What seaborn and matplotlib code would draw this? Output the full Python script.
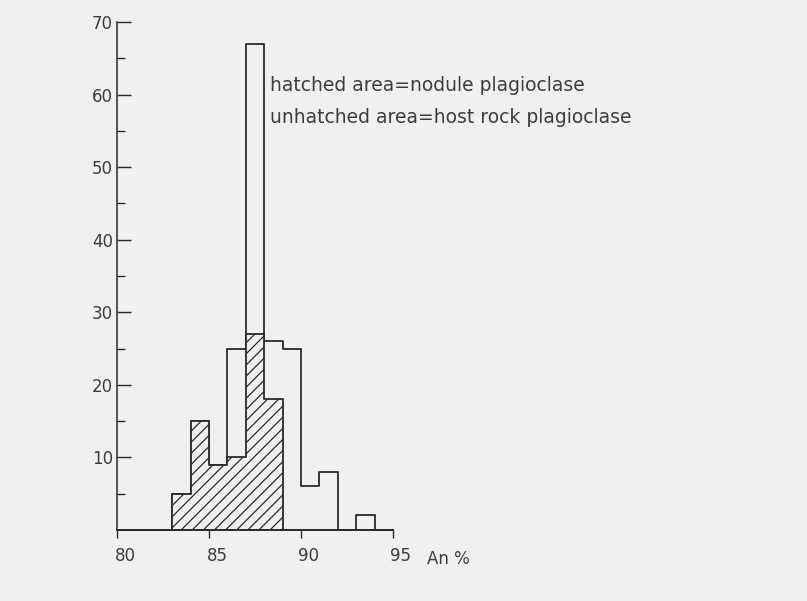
import numpy as np
import pandas as pd
import matplotlib
matplotlib.use("Agg")
import matplotlib.pyplot as plt
import matplotlib.transforms as mtransforms
import seaborn as sns

# Anorthite content bins (An %), one unit wide
bin_edges = [80, 81, 82, 83, 84, 85, 86, 87, 88, 89, 90, 91, 92, 93, 94, 95]
bin_centers = [80.5, 81.5, 82.5, 83.5, 84.5, 85.5, 86.5, 87.5, 88.5,
               89.5, 90.5, 91.5, 92.5, 93.5, 94.5]

# Counts per bin
nodule_counts = [0, 0, 0, 5, 15, 9, 10, 27, 18, 0, 0, 0, 0, 0, 0]
host_counts = [0, 0, 0, 0, 0, 0, 15, 40, 8, 25, 6, 8, 0, 2, 0]

y_ticks = [10, 20, 30, 40, 50, 60, 70]
y_minor = [5, 15, 25, 35, 45, 55, 65]
x_ticks = [80, 85, 90, 95]

legend_lines = ["hatched area=nodule plagioclase",
                "unhatched area=host rock plagioclase"]

bg = "#f0f0f0"
ink = "#2a2a2a"
text_col = "#3c3c3c"

sns.set_style("ticks")
plt.rcParams["font.family"] = ["DejaVu Sans"]
plt.rcParams["hatch.linewidth"] = 0.9
plt.rcParams["hatch.color"] = ink

total_counts = [n + h for n, h in zip(nodule_counts, host_counts)]
df = pd.DataFrame({
    "An": bin_centers * 2,
    "count": total_counts + nodule_counts,
    "layer": ["total"] * len(bin_centers) + ["nodule"] * len(bin_centers),
})

fig = plt.figure(figsize=(8.07, 6.01), dpi=100, facecolor=bg)
ax = fig.add_axes([117 / 807, 71 / 601, 276 / 807, 508 / 601])
ax.set_facecolor(bg)

# Outline of all plagioclase, then the nodule part hatched on top
sns.histplot(data=df[df["layer"] == "total"], x="An", weights="count",
             bins=bin_edges, element="step", fill=True, ax=ax, color=ink)
n_before = len(ax.collections)
sns.histplot(data=df[df["layer"] == "nodule"], x="An", weights="count",
             bins=bin_edges, element="step", fill=True, ax=ax, color=ink)

for i, coll in enumerate(ax.collections):
    coll.set_alpha(1)
    coll.set_facecolor(bg)
    coll.set_edgecolor(ink)
    coll.set_linewidth(1.3)
    if i >= n_before:
        coll.set_hatch("///")

ax.set_xlim(80, 95)
ax.set_ylim(0, 70)
ax.set_xlabel("")
ax.set_ylabel("")

ax.set_yticks(y_ticks)
ax.set_yticks(y_minor, minor=True)
ax.set_xticks(x_ticks)
ax.set_xticklabels([str(t) for t in x_ticks])
ax.set_yticklabels([str(t) for t in y_ticks])

ax.tick_params(axis="y", which="major", direction="in", length=10, width=1.0,
               pad=3, labelsize=12, labelcolor=text_col, color=ink)
ax.tick_params(axis="y", which="minor", direction="in", length=6, width=1.0,
               color=ink)
ax.tick_params(axis="x", which="major", direction="out", length=6, width=1.0,
               pad=6, labelsize=12, labelcolor=text_col, color=ink)

# x labels sit slightly right of their ticks
shift = mtransforms.ScaledTranslation(0.08, 0, fig.dpi_scale_trans)
for lbl in ax.get_xticklabels():
    lbl.set_transform(lbl.get_transform() + shift)

for side in ("top", "right"):
    ax.spines[side].set_visible(False)
for side in ("left", "bottom"):
    ax.spines[side].set_color(ink)
    ax.spines[side].set_linewidth(1.1)

fig.text(427 / 807, 1 - 564 / 601, "An %", fontsize=12, color=text_col,
         ha="left", va="baseline")
fig.text(270 / 807, 1 - 91 / 601, legend_lines[0], fontsize=13.5,
         color=text_col, ha="left", va="baseline")
fig.text(270 / 807, 1 - 123 / 601, legend_lines[1], fontsize=13.5,
         color=text_col, ha="left", va="baseline")

fig.savefig("out.png", dpi=100, facecolor=bg)
